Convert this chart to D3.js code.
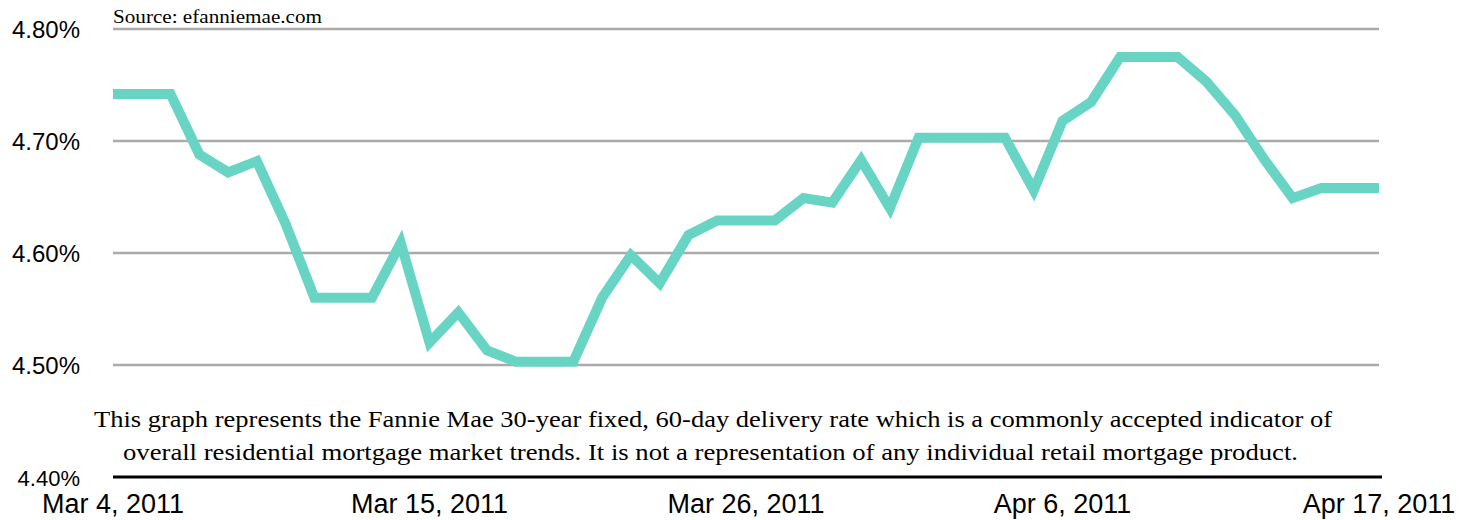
<!DOCTYPE html>
<html>
<head>
<meta charset="utf-8">
<script src="https://cdn.jsdelivr.net/npm/d3@7"></script>
<style>
  body { margin: 0; background: #fff; }
  svg { display: block; }
</style>
</head>
<body>
<div id="chart"></div>
<script>
// daily dates, Mar 4 - Apr 17, 2011
var dates = [
    "2011-03-04", "2011-03-05", "2011-03-06", "2011-03-07", "2011-03-08",
    "2011-03-09", "2011-03-10", "2011-03-11", "2011-03-12", "2011-03-13",
    "2011-03-14", "2011-03-15", "2011-03-16", "2011-03-17", "2011-03-18",
    "2011-03-19", "2011-03-20", "2011-03-21", "2011-03-22", "2011-03-23",
    "2011-03-24", "2011-03-25", "2011-03-26", "2011-03-27", "2011-03-28",
    "2011-03-29", "2011-03-30", "2011-03-31", "2011-04-01", "2011-04-02",
    "2011-04-03", "2011-04-04", "2011-04-05", "2011-04-06", "2011-04-07",
    "2011-04-08", "2011-04-09", "2011-04-10", "2011-04-11", "2011-04-12",
    "2011-04-13", "2011-04-14", "2011-04-15", "2011-04-16", "2011-04-17"
];

// 30-year fixed, 60-day delivery rate (%)
var rates = [
    4.742, 4.742, 4.742, 4.688, 4.672,
    4.682, 4.626, 4.560, 4.560, 4.560,
    4.609, 4.520, 4.547, 4.513, 4.503,
    4.503, 4.503, 4.560, 4.598, 4.573,
    4.616, 4.629, 4.629, 4.629, 4.649,
    4.645, 4.683, 4.640, 4.703, 4.703,
    4.703, 4.703, 4.656, 4.718, 4.735,
    4.775, 4.775, 4.775, 4.753, 4.723,
    4.684, 4.649, 4.658, 4.658, 4.658
];

var yTicks = [4.40, 4.50, 4.60, 4.70, 4.80];
var xTicks = ["2011-03-04", "2011-03-15", "2011-03-26", "2011-04-06", "2011-04-17"];

var sourceText = "Source: efanniemae.com";
var captionLines = [
    "This graph represents the Fannie Mae 30-year fixed, 60-day delivery rate which is a commonly accepted indicator of",
    "overall residential mortgage market trends. It is not a representation of any individual retail mortgage product."
];

var parseDate = d3.timeParse("%Y-%m-%d");
var fmtDate = d3.timeFormat("%b %-d, %Y");

var width = 1462, height = 520;
var left = 113, right = 1379;

var svg = d3.select("#chart").append("svg")
    .attr("width", width)
    .attr("height", height);

var x = d3.scaleTime()
    .domain([parseDate(dates[0]), parseDate(dates[dates.length - 1])])
    .range([left, right]);

var y = d3.scaleLinear()
    .domain([4.40, 4.80])
    .range([477, 29]);

// gridlines (not the bottom one, that's the axis)
svg.selectAll("line.grid")
    .data(yTicks.slice(1))
    .enter().append("line")
    .attr("class", "grid")
    .attr("x1", left).attr("x2", right)
    .attr("y1", function(d) { return y(d); })
    .attr("y2", function(d) { return y(d); })
    .attr("stroke", "#aaaaaa")
    .attr("stroke-width", 2.5);

// bottom axis line
svg.append("line")
    .attr("x1", left).attr("x2", right + 3)
    .attr("y1", y(4.40)).attr("y2", y(4.40))
    .attr("stroke", "#000")
    .attr("stroke-width", 3);

// y tick labels
svg.selectAll("text.ytick")
    .data(yTicks)
    .enter().append("text")
    .attr("class", "ytick")
    .attr("x", 80)
    .attr("y", function(d) { return y(d) + 9; })
    .attr("text-anchor", "end")
    .attr("font-family", "Liberation Sans, Arial, sans-serif")
    .attr("font-size", function(d) { return d === 4.40 ? 22 : 24; })
    .attr("fill", "#000")
    .text(function(d) { return d3.format(".2f")(d) + "%"; });

// x tick labels
svg.selectAll("text.xtick")
    .data(xTicks)
    .enter().append("text")
    .attr("class", "xtick")
    .attr("x", function(d) { return x(parseDate(d)); })
    .attr("y", 513)
    .attr("text-anchor", "middle")
    .attr("font-family", "Liberation Sans, Arial, sans-serif")
    .attr("font-size", 27)
    .attr("fill", "#000")
    .text(function(d) { return fmtDate(parseDate(d)); });

// the rate line
var line = d3.line()
    .x(function(d, i) { return x(parseDate(dates[i])); })
    .y(function(d) { return y(d); });

svg.append("path")
    .datum(rates)
    .attr("d", line)
    .attr("fill", "none")
    .attr("stroke", "#68d5c4")
    .attr("stroke-width", 10)
    .attr("stroke-linejoin", "miter");

// source note
svg.append("text")
    .attr("x", left)
    .attr("y", 23)
    .attr("font-family", "Liberation Serif, Times New Roman, serif")
    .attr("font-size", 18)
    .attr("textLength", 209)
    .attr("lengthAdjust", "spacingAndGlyphs")
    .attr("fill", "#000")
    .text(sourceText);

// caption under the chart
var capX = [94, 123], capW = [1238, 1175], capY = [427, 460];
svg.selectAll("text.caption")
    .data(captionLines)
    .enter().append("text")
    .attr("class", "caption")
    .attr("x", function(d, i) { return capX[i]; })
    .attr("y", function(d, i) { return capY[i]; })
    .attr("font-family", "Liberation Serif, Times New Roman, serif")
    .attr("font-size", 24)
    .attr("textLength", function(d, i) { return capW[i]; })
    .attr("lengthAdjust", "spacingAndGlyphs")
    .attr("fill", "#000")
    .text(function(d) { return d; });
</script>
</body>
</html>
